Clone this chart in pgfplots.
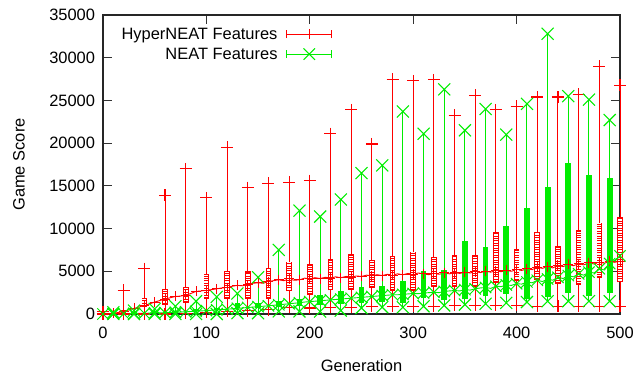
\documentclass[border=0pt]{standalone}
\usepackage{fontspec}
\setmainfont{Liberation Sans}
\usepackage{pgfplots}
\pgfplotsset{compat=1.18}
\usepackage{pgfplotstable}
\definecolor{nred}{rgb}{1,0,0}
\definecolor{ngreen}{rgb}{0,0.93,0}

% HyperNEAT candlesticks: gen, min, q1, q3, max
\pgfplotstableread{
gen lo qa qb hi
0 0 0 100 250
20 0 150 500 2800
40 0 820 1870 5300
60 0 1090 2950 13900
80 100 1290 3150 17000
100 200 1750 4670 13600
120 300 1790 5060 19500
140 400 1750 5060 14800
160 500 1790 5370 15300
180 800 2640 6140 15400
200 700 2250 5880 15600
220 800 2760 6420 21100
240 800 2840 7000 23900
260 900 3040 6340 19900
280 900 2720 6810 27500
300 900 2720 7310 27300
320 900 3150 6660 27400
340 1000 3150 6860 23250
360 1000 3200 6930 25600
380 1000 3620 9620 23900
400 1000 3900 7600 24300
420 900 4000 9650 25400
440 900 3500 7950 25400
460 900 3420 9850 25700
480 900 4200 10700 29000
500 900 3700 11400 26800
}\redtab

% NEAT candlesticks: gen, min, q1, q3, max
\pgfplotstableread{
gen lo qa qb hi
10 0 0 100 200
30 0 50 200 400
50 0 100 300 600
70 0 150 400 900
90 0 300 600 1500
110 0 420 700 2000
130 100 700 1290 2400
150 100 700 1290 4300
170 300 820 1550 7500
190 300 970 1790 12100
210 300 1090 2250 11400
230 400 1200 2640 13400
250 700 1290 3110 16500
270 800 1360 3300 17400
290 800 1290 3890 23700
310 900 1870 4980 21100
330 1000 1590 5100 26300
350 1100 1750 8560 21500
370 1200 2060 7900 24000
390 1300 2370 10310 21000
410 1400 1800 12400 24600
430 1500 1940 14830 32800
450 1500 2450 17700 25500
470 1500 2060 16270 25100
490 1500 2450 15960 22700
}\greentab

% mean game score per generation
\pgfplotstableread{
gen m
0 0
5 20
10 80
15 180
20 300
25 480
30 650
35 820
40 1000
45 1180
50 1400
55 1580
60 1750
65 1900
70 2050
75 2100
80 2200
85 2400
90 2650
95 2700
100 2800
105 2850
110 2950
115 3050
120 3100
125 3250
130 3350
135 3300
140 3450
145 3600
150 3650
155 3600
160 3800
165 3900
170 4000
175 3900
180 4100
185 3950
190 4000
195 4200
200 4100
205 4250
210 4150
215 4300
220 4200
225 4350
230 4250
235 4400
240 4300
245 4450
250 4400
255 4550
260 4450
265 4600
270 4500
275 4650
280 4550
285 4700
290 4600
295 4750
300 4650
305 4800
310 4700
315 4600
320 4750
325 4650
330 4800
335 4700
340 4850
345 4750
350 4900
355 4800
360 4950
365 4850
370 5000
375 4900
380 5050
385 4950
390 5100
395 5000
400 5200
405 5100
410 5300
415 5200
420 5450
425 5350
430 5550
435 5400
440 5700
445 5550
450 5800
455 5650
460 5900
465 5750
470 6000
475 5850
480 6050
485 5950
490 6150
495 6050
500 6200
}\redmean

\pgfplotstableread{
gen m
0 0
5 10
10 20
15 30
20 40
25 50
30 60
35 70
40 80
45 100
50 120
55 140
60 160
65 180
70 200
75 230
80 260
85 290
90 320
95 360
100 400
105 440
110 480
115 520
120 560
125 610
130 660
135 710
140 760
145 810
150 860
155 910
160 960
165 1020
170 1080
175 1140
180 1200
185 1260
190 1320
195 1400
200 1450
205 1500
210 1550
215 1600
220 1650
225 1700
230 1750
235 1800
240 1850
245 1900
250 1950
255 2000
260 2050
265 2100
270 2150
275 2200
280 2250
285 2250
290 2300
295 2350
300 2400
305 2380
310 2450
315 2500
320 2550
325 2500
330 2650
335 2700
340 2750
345 2700
350 2850
355 2800
360 2950
365 3050
370 3100
375 3000
380 3250
385 3200
390 3400
395 3350
400 3550
405 3500
410 3750
415 3650
420 3950
425 3800
430 4100
435 3950
440 4300
445 4150
450 4500
455 4350
460 4700
465 4550
470 4900
475 4800
480 5300
485 5150
490 5900
495 6300
500 6800
}\greenmean

\pgfplotsset{
  boxbar/.style 2 args={forget plot, draw=none, mark=none,
    error bars/.cd, y dir=plus, y explicit, error mark=none,
    error bar style={#1, line width=#2}},
}

\begin{document}
\begin{tikzpicture}
\useasboundingbox (-103bp,-63bp) rectangle (541bp,314bp);
\begin{axis}[
  at={(0,0)}, anchor=south west,
  scale only axis, width=517bp, height=299bp,
  xmin=0, xmax=500, ymin=0, ymax=35000,
  xtick={0,100,...,500}, ytick={0,5000,...,35000},
  tick align=inside, major tick length=9bp,
  tick style={black!80, line width=0.8bp},
  axis line style={black!85, line width=1.2bp},
  clip=false,
  scaled y ticks=false, scaled x ticks=false,
  /pgf/number format/1000 sep={},
  /pgf/number format/assume math mode=true,
  font=\fontsize{16.5}{19.5}\selectfont,
  xticklabel style={yshift=-9.5bp},
  yticklabel style={xshift=-4.5bp},
  xlabel={Generation}, ylabel={Game Score},
  xlabel style={at={(axis description cs:0.5,-0.174)}, anchor=center},
  ylabel style={at={(axis description cs:-0.1625,0.5)}, anchor=center},
  legend style={draw=none, fill=none, at={(axis description cs:0.4435,1)}, anchor=north east,
    yshift=-10.5bp, inner sep=0pt, row sep=3.2bp, column sep=7bp,
    font=\fontsize{16.5}{19.5}\selectfont, nodes={inner sep=2bp}},
  legend plot pos=right, legend cell align=right,
]
\addlegendimage{legend image code/.code={
  \draw[nred, line width=1bp] (0bp,0bp) -- (44.6bp,0bp);
  \draw[nred, line width=1bp] (0bp,-4bp) -- (0bp,4bp) (44.6bp,-4bp) -- (44.6bp,4bp);
  \draw[nred, line width=1bp] (17.3bp,0bp) -- (27.3bp,0bp) (22.3bp,-5bp) -- (22.3bp,5bp);
}}
\addlegendentry{HyperNEAT Features}
\addlegendimage{legend image code/.code={
  \draw[ngreen, line width=1bp] (0bp,0bp) -- (44.6bp,0bp);
  \draw[ngreen, line width=1bp] (0bp,-4bp) -- (0bp,4bp) (44.6bp,-4bp) -- (44.6bp,4bp);
  \draw[ngreen, line width=1bp] (16.6bp,-5.7bp) -- (28bp,5.7bp) (16.6bp,5.7bp) -- (28bp,-5.7bp);
}}
\addlegendentry{NEAT Features}

% ---------- HyperNEAT ----------
\addplot[forget plot, color=nred, line width=0.9bp, mark=+, mark size=5bp, mark repeat=2, mark phase=1,
  mark options={draw=nred, line width=1bp}] table[x=gen, y=m] {\redmean};
% whiskers min..max
\addplot[boxbar={draw=nred}{1bp}] table[x=gen, y=lo, y error plus expr={\thisrow{hi}-\thisrow{lo}}] {\redtab};
% boxes q1..q3 (outline, white interior, hatching)
\addplot[boxbar={draw=nred}{5.6bp}] table[x=gen, y=qa, y error plus expr={\thisrow{qb}-\thisrow{qa}}] {\redtab};
\addplot[boxbar={draw=white, shorten <=0.9bp, shorten >=0.9bp}{3.8bp}] table[x=gen, y=qa, y error plus expr={\thisrow{qb}-\thisrow{qa}}] {\redtab};
\addplot[boxbar={draw=nred, shorten <=0.9bp, shorten >=0.9bp, dash pattern=on 0.9bp off 1.5bp}{3.8bp}] table[x=gen, y=qa, y error plus expr={\thisrow{qb}-\thisrow{qa}}] {\redtab};
% whisker end marks
\addplot[forget plot, only marks, color=nred, mark=+, mark size=6bp, mark options={draw=nred, line width=1.1bp}]
  table[x=gen, y=hi] {\redtab};
\addplot[forget plot, only marks, color=nred, mark=+, mark size=6bp, mark options={draw=nred, line width=1.1bp}]
  table[x=gen, y=lo] {\redtab};

% ---------- NEAT ----------
\addplot[forget plot, color=ngreen, line width=0.9bp, mark=x, mark size=8bp, mark repeat=2, mark phase=1,
  mark options={draw=ngreen, line width=1bp}] table[x=gen, y=m] {\greenmean};
\addplot[boxbar={draw=ngreen}{1bp}] table[x=gen, y=lo, y error plus expr={\thisrow{hi}-\thisrow{lo}}] {\greentab};
\addplot[boxbar={draw=ngreen}{5.8bp}] table[x=gen, y=qa, y error plus expr={\thisrow{qb}-\thisrow{qa}}] {\greentab};
\addplot[forget plot, only marks, color=ngreen, mark=x, mark size=8.5bp, mark options={draw=ngreen, line width=1.1bp}]
  table[x=gen, y=hi] {\greentab};
\addplot[forget plot, only marks, color=ngreen, mark=x, mark size=8.5bp, mark options={draw=ngreen, line width=1.1bp}]
  table[x=gen, y=lo] {\greentab};
\end{axis}
\end{tikzpicture}
\end{document}
